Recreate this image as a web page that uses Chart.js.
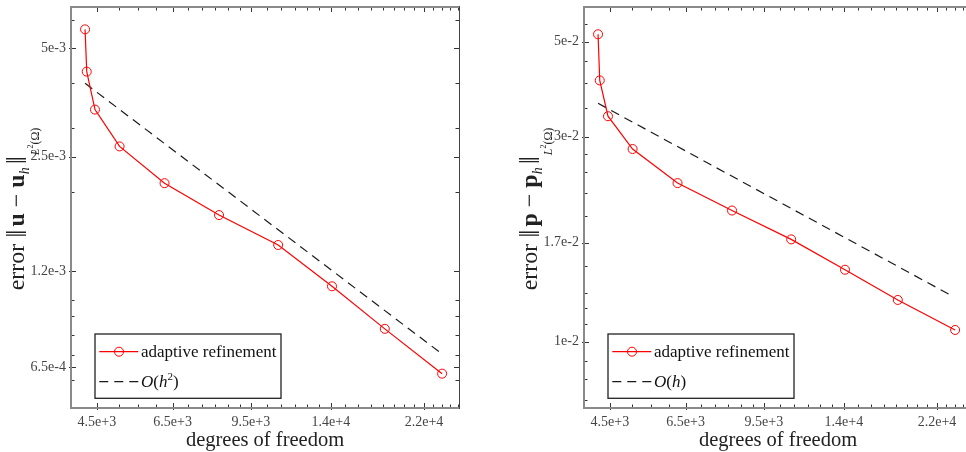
<!DOCTYPE html>
<html>
<head>
<meta charset="utf-8">
<script src="https://cdn.jsdelivr.net/npm/chart.js@4.4.1/dist/chart.umd.min.js"></script>
<style>
  html, body { margin: 0; padding: 0; background: #fff; overflow: hidden; width: 966px; height: 452px; }
  .panel { position: absolute; top: 0; height: 452px; }
  #left { left: 0; width: 483px; }
  #right { left: 483px; width: 510px; }
</style>
</head>
<body>
<div class="panel" id="left"><canvas id="chart-u"></canvas></div>
<div class="panel" id="right"><canvas id="chart-p"></canvas></div>
<script>
// degrees of freedom of each adaptive step (same for both panels)
const dofs = [4250, 4285, 4460, 5025, 6250, 8140, 10845, 14080, 18190, 24020]
// velocity error ||u - u_h|| and pressure error ||p - p_h||
const errU = [5.65e-3, 4.31e-3, 3.38e-3, 2.67e-3, 2.11e-3, 1.72e-3, 1.42e-3, 1.09e-3, 8.3e-4, 6.23e-4]
const errP = [5.20e-2, 4.06e-2, 3.35e-2, 2.81e-2, 2.34e-2, 2.02e-2, 1.73e-2, 1.47e-2, 1.25e-2, 1.064e-2]
// reference slopes (dashed)
const refUDofs = [4250, 24000]
const refU = [4.0e-3, 7.07e-4]
const refPDofs = [4250, 23580]
const refP = [3.59e-2, 1.28e-2]

// tick values and labels
const xMajor = [4500, 6500, 9500, 14000, 22000]
const xLabels = ['4.5e+3', '6.5e+3', '9.5e+3', '1.4e+4', '2.2e+4']
const xMinor = [5000, 5500, 6000, 7000, 7500, 8000, 8500, 9000, 10250, 11000, 11750, 12500, 13250,
  15000, 16000, 17000, 18000, 19000, 20000, 21000, 23000, 24000, 25000, 26000]
const uMajor = [5e-3, 2.5e-3, 1.2e-3, 6.5e-4]
const uLabels = ['5e-3', '2.5e-3', '1.2e-3', '6.5e-4']
const uMinor = [6e-3, 4e-3, 3e-3, 2e-3, 1e-3, 9e-4, 8e-4, 7e-4, 6e-4]
const pMajor = [5e-2, 3e-2, 1.7e-2, 1e-2]
const pLabels = ['5e-2', '3e-2', '1.7e-2', '1e-2']
const pMinor = [5.5e-2, 4.5e-2, 4e-2, 3.5e-2, 2.74e-2, 2.48e-2, 2.22e-2, 1.96e-2,
  1.5e-2, 1.3e-2, 1.2e-2, 1.1e-2, 9e-3, 8.2e-3, 7.3e-3]

const SERIF = "'Liberation Serif', 'DejaVu Serif', serif"
Chart.defaults.font.family = SERIF

function runsWidth(ctx, runs) {
  let w = 0
  runs.forEach(r => { ctx.font = r.font; w += ctx.measureText(r.text).width + (r.dx || 0) })
  return w
}

function drawRuns(ctx, runs, x, y) {
  runs.forEach(r => {
    ctx.font = r.font
    x += r.dx || 0
    ctx.fillText(r.text, x, y + (r.dy || 0))
    x += ctx.measureText(r.text).width
  })
}

// box, inward ticks on all four sides, rotated y title and the legend box
const framePlugin = {
  id: 'frame',
  afterDraw(chart, args, o) {
    const ctx = chart.ctx
    const a = chart.chartArea
    const xs = chart.scales.x
    const ys = chart.scales.y
    ctx.save()
    ctx.strokeStyle = '#333'
    ctx.lineWidth = 1
    ctx.beginPath()
    xs.ticks.forEach(t => {
      const p = Math.round(xs.getPixelForValue(t.value)) + 0.5
      const major = o.xMajor.includes(t.value)
      const len = major ? 5 : 3.5
      ctx.moveTo(p, a.bottom + (major ? 2 : 0)); ctx.lineTo(p, a.bottom - len)
      ctx.moveTo(p, a.top); ctx.lineTo(p, a.top + len)
    })
    ys.ticks.forEach(t => {
      const p = Math.round(ys.getPixelForValue(t.value)) + 0.5
      const major = o.yMajor.includes(t.value)
      const len = major ? 5 : 3.5
      ctx.moveTo(a.left - (major ? 2 : 0), p); ctx.lineTo(a.left + len, p)
      ctx.moveTo(a.right, p); ctx.lineTo(a.right - len, p)
    })
    ctx.stroke()

    ctx.strokeStyle = '#8a8a8a'
    ctx.lineWidth = 2
    ctx.beginPath()
    ctx.moveTo(a.right, a.top); ctx.lineTo(a.left, a.top)
    ctx.lineTo(a.left, a.bottom); ctx.lineTo(a.right, a.bottom)
    ctx.stroke()
    ctx.strokeStyle = '#444'
    ctx.lineWidth = 1
    ctx.beginPath()
    ctx.moveTo(a.right + 0.5, a.top - 1); ctx.lineTo(a.right + 0.5, a.bottom + 1)
    ctx.stroke()

    // y axis title
    ctx.fillStyle = '#222'
    ctx.textAlign = 'left'
    ctx.textBaseline = 'alphabetic'
    ctx.translate(a.left - 47.5, (a.top + a.bottom) / 2 + 1.5)
    ctx.rotate(-Math.PI / 2)
    drawRuns(ctx, o.title, -runsWidth(ctx, o.title) / 2, 0)
    ctx.restore()

    // legend
    const L = a.left + 24, T = a.bottom - 74, W = 186, H = 64.3
    ctx.save()
    ctx.fillStyle = '#fff'
    ctx.fillRect(L, T, W, H)
    ctx.strokeStyle = '#222'
    ctx.lineWidth = 1.3
    ctx.strokeRect(L, T, W, H)
    chart.data.datasets.forEach((ds, i) => {
      const y = T + 17.7 + i * 30
      ctx.strokeStyle = ds.borderColor
      ctx.lineWidth = ds.borderWidth
      ctx.setLineDash(ds.borderDash || [])
      ctx.beginPath(); ctx.moveTo(L + 4.3, y); ctx.lineTo(L + 43.3, y); ctx.stroke()
      ctx.setLineDash([])
      if (ds.pointRadius) {
        ctx.lineWidth = ds.pointBorderWidth
        ctx.strokeStyle = ds.pointBorderColor
        ctx.beginPath(); ctx.arc(L + 24, y, ds.pointRadius, 0, 2 * Math.PI); ctx.stroke()
      }
      ctx.fillStyle = '#111'
      ctx.textAlign = 'left'
      ctx.textBaseline = 'alphabetic'
      drawRuns(ctx, o.legend[i], L + 46, y + 5.5)
    })
    ctx.restore()
  }
}

function titleRuns(v) {
  return [
    { text: 'error ', font: `24px ${SERIF}` },
    { text: '‖', font: `29px ${SERIF}`, dy: 2 },
    { text: v, font: `bold 24px ${SERIF}`, dx: 3 },
    { text: ' − ', font: `24px ${SERIF}` },
    { text: v, font: `bold 24px ${SERIF}` },
    { text: 'h', font: `italic 14px ${SERIF}`, dy: 5 },
    { text: '‖', font: `29px ${SERIF}`, dy: 2, dx: 3 },
    { text: 'L', font: `italic 12px ${SERIF}`, dy: 15, dx: 1 },
    { text: '2', font: `8px ${SERIF}`, dy: 9 },
    { text: '(Ω)', font: `12px ${SERIF}`, dy: 15 }
  ]
}

function refRuns(power) {
  const r = [
    { text: 'O', font: `italic 17px ${SERIF}` },
    { text: '(', font: `17px ${SERIF}` },
    { text: 'h', font: `italic 17px ${SERIF}` }
  ]
  if (power) r.push({ text: power, font: `11px ${SERIF}`, dy: -7 })
  r.push({ text: ')', font: `17px ${SERIF}` })
  return r
}

function errorChart(id, o) {
  return new Chart(document.getElementById(id), {
    type: 'line',
    data: {
      datasets: [
        {
          label: 'adaptive refinement',
          data: dofs.map((d, i) => ({ x: d, y: o.err[i] })),
          borderColor: '#ff0000',
          borderWidth: 1.2,
          pointRadius: 4.5,
          pointBorderWidth: 1,
          pointBorderColor: '#ff0000',
          pointBackgroundColor: 'rgba(0,0,0,0)',
          tension: 0,
        },
        {
          label: 'reference',
          data: o.refX.map((d, i) => ({ x: d, y: o.refY[i] })),
          borderColor: '#1a1a1a',
          borderWidth: 1.2,
          borderDash: [9, 6],
          pointRadius: 0,
          tension: 0,
        },
      ],
    },
    options: {
      responsive: true,
      maintainAspectRatio: false,
      animation: false,
      layout: { padding: { left: 0, top: 7, right: o.padRight, bottom: 0 } },
      plugins: {
        legend: { display: false },
        tooltip: { enabled: false },
        frame: { xMajor: xMajor, yMajor: o.yMajor, title: o.title, legend: o.legend },
      },
      scales: {
        x: {
          type: 'logarithmic',
          min: 3970,
          max: 26070,
          afterBuildTicks: s => { s.ticks = xMajor.concat(xMinor).sort((a, b) => a - b).map(v => ({ value: v })) },
          afterFit: s => { s.height = 44; s.paddingLeft = 0; s.paddingRight = 0 },
          ticks: {
            autoSkip: false, maxRotation: 0, padding: 6, color: '#444',
            font: { size: 14 },
            callback: v => { const i = xMajor.indexOf(v); return i >= 0 ? xLabels[i] : '' },
          },
          grid: { display: false, drawTicks: false },
          border: { display: false },
          title: { display: true, text: 'degrees of freedom', color: '#222', font: { size: 20.5 }, padding: { top: 0, bottom: -1 } },
        },
        y: {
          type: 'logarithmic',
          min: o.yMin,
          max: o.yMax,
          afterBuildTicks: s => { s.ticks = o.yMajor.concat(o.yMinor).sort((a, b) => a - b).map(v => ({ value: v })) },
          afterFit: s => { s.width = o.yWidth; s.paddingTop = 0; s.paddingBottom = 0 },
          ticks: {
            autoSkip: false, padding: 5, color: '#444',
            font: { size: 14 },
            callback: v => { const i = o.yMajor.indexOf(v); return i >= 0 ? o.yLabels[i] : '' },
          },
          grid: { display: false, drawTicks: false },
          border: { display: false },
        },
      },
    },
    plugins: [framePlugin],
  })
}

window.chartU = errorChart('chart-u', {
  err: errU, refX: refUDofs, refY: refU,
  yMin: 5.0e-4, yMax: 6.52e-3, yMajor: uMajor, yLabels: uLabels, yMinor: uMinor,
  yWidth: 71, padRight: 24,
  title: titleRuns('u'), legend: [[{ text: 'adaptive refinement', font: `17px ${SERIF}` }], refRuns('2')],
})

window.chartP = errorChart('chart-p', {
  err: errP, refX: refPDofs, refY: refP,
  yMin: 7.0e-3, yMax: 6.02e-2, yMajor: pMajor, yLabels: pLabels, yMinor: pMinor,
  yWidth: 101, padRight: 21,
  title: titleRuns('p'), legend: [[{ text: 'adaptive refinement', font: `17px ${SERIF}` }], refRuns('')],
})
</script>
</body>
</html>
